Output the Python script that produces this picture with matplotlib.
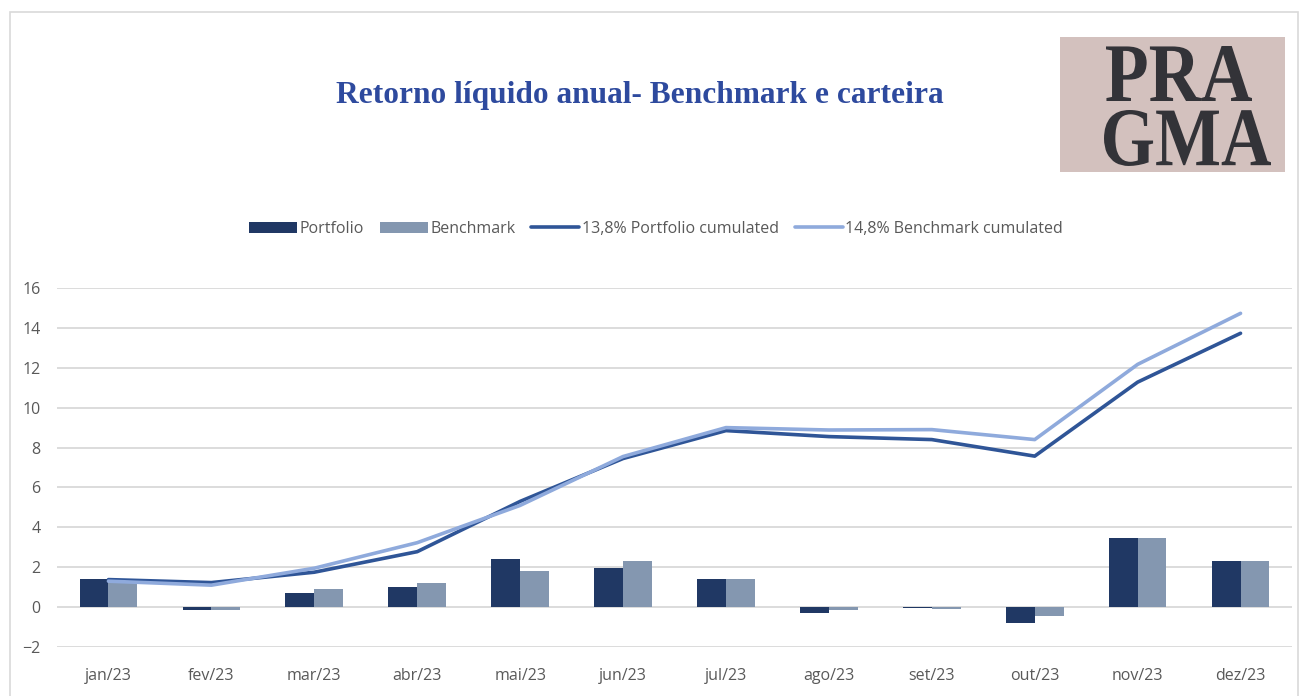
import numpy as np
import matplotlib.pyplot as plt
from matplotlib.patches import Rectangle, PathPatch
from matplotlib.textpath import TextPath
from matplotlib.font_manager import FontProperties
from matplotlib.transforms import Affine2D

# ---------------------------
# Data
# ---------------------------
months = ["jan/23", "fev/23", "mar/23", "abr/23", "mai/23", "jun/23",
          "jul/23", "ago/23", "set/23", "out/23", "nov/23", "dez/23"]

portfolio = [1.4, -0.15, 0.73, 1.0, 2.4, 1.98, 1.4, -0.3, -0.02, -0.8, 3.48, 2.32]
benchmark = [1.2, -0.15, 0.9, 1.23, 1.82, 2.32, 1.4, -0.13, -0.08, -0.47, 3.48, 2.32]

portfolio_cum = [1.38, 1.23, 1.75, 2.78, 5.3, 7.45, 8.85, 8.55, 8.4, 7.57, 11.28, 13.73]
benchmark_cum = [1.3, 1.1, 1.95, 3.23, 5.1, 7.55, 9.0, 8.88, 8.9, 8.4, 12.17, 14.73]

yticks = [-2, 0, 2, 4, 6, 8, 10, 12, 14, 16]

# colours
c_port_bar = "#203864"
c_bench_bar = "#8497B0"
c_port_line = "#2F5597"
c_bench_line = "#8FAADC"
c_text = "#595959"

plt.rcParams['font.family'] = ['Open Sans', 'DejaVu Sans']

fig = plt.figure(figsize=(13.01, 6.96), dpi=100)
W, H = 1301, 696

# outer frame
fig.patches.append(Rectangle((10 / W, -0.01), (1298 - 10) / W, 1 - 12 / H + 0.01,
                             transform=fig.transFigure, fill=False,
                             edgecolor="#D9D9D9", linewidth=1.2))

ax = fig.add_axes([57 / W, (H - 647) / H, (1292 - 57) / W, (647 - 288) / H])

x = np.arange(len(months))
bw = 0.28
b1 = ax.bar(x - bw / 2, portfolio, bw, color=c_port_bar, zorder=2)
b2 = ax.bar(x + bw / 2, benchmark, bw, color=c_bench_bar, zorder=2)
l1, = ax.plot(x, portfolio_cum, color=c_port_line, lw=2.6, zorder=3,
              solid_capstyle="round", solid_joinstyle="round")
l2, = ax.plot(x, benchmark_cum, color=c_bench_line, lw=2.6, zorder=3,
              solid_capstyle="round", solid_joinstyle="round")

ax.set_xlim(-0.5, len(months) - 0.5)
ax.set_ylim(-2, 16)
ax.set_yticks(yticks)
ax.set_xticks(x)
ax.set_xticklabels(months)
ax.grid(axis="y", color="#D9D9D9", linewidth=1.3, zorder=0)
ax.set_axisbelow(True)
for s in ax.spines.values():
    s.set_visible(False)
ax.tick_params(length=0, colors=c_text, labelsize=11.5)
ax.tick_params(axis="x", pad=15)
ax.tick_params(axis="y", pad=12)

# legend
fig.legend([b1, b2, l1, l2],
           ["Portfolio", "Benchmark", "13,8% Portfolio cumulated", "14,8% Benchmark cumulated"],
           loc="center", bbox_to_anchor=(656 / W, 1 - 229 / H),
           ncol=4, frameon=False, fontsize=11.5, handlelength=3.0, handleheight=0.75,
           handletextpad=0.15, columnspacing=1.0, labelcolor=c_text)

# title
fig.text(640 / W, 1 - 95 / H, "Retorno líquido anual- Benchmark e carteira",
         ha="center", va="center", fontsize=22.6, fontweight="bold",
         family="Liberation Serif", color="#2E4A9E")

# logo box, in pixel coordinates
lax = fig.add_axes([1060 / W, 1 - 172 / H, 225 / W, 135 / H])
lax.set_xlim(1060, 1285)
lax.set_ylim(172, 37)
lax.set_facecolor("#D3C1BE")
lax.set_xticks([])
lax.set_yticks([])
for s in lax.spines.values():
    s.set_visible(False)

logo_font = FontProperties(family="Liberation Serif", weight="bold")


def put_word(word, x0, x1, ytop, ybot):
    tp = TextPath((0, 0), word, size=100, prop=logo_font)
    ext = tp.get_extents()
    tr = (Affine2D().translate(-ext.x0, -ext.y0)
          .scale((x1 - x0) / ext.width, -(ybot - ytop) / ext.height)
          .translate(x0, ybot))
    lax.add_patch(PathPatch(tr.transform_path(tp), color="#333338", lw=0))


put_word("PRA", 1106, 1252, 46, 101)
put_word("GMA", 1104, 1271, 110, 166)

fig.savefig("out.png", dpi=100)
